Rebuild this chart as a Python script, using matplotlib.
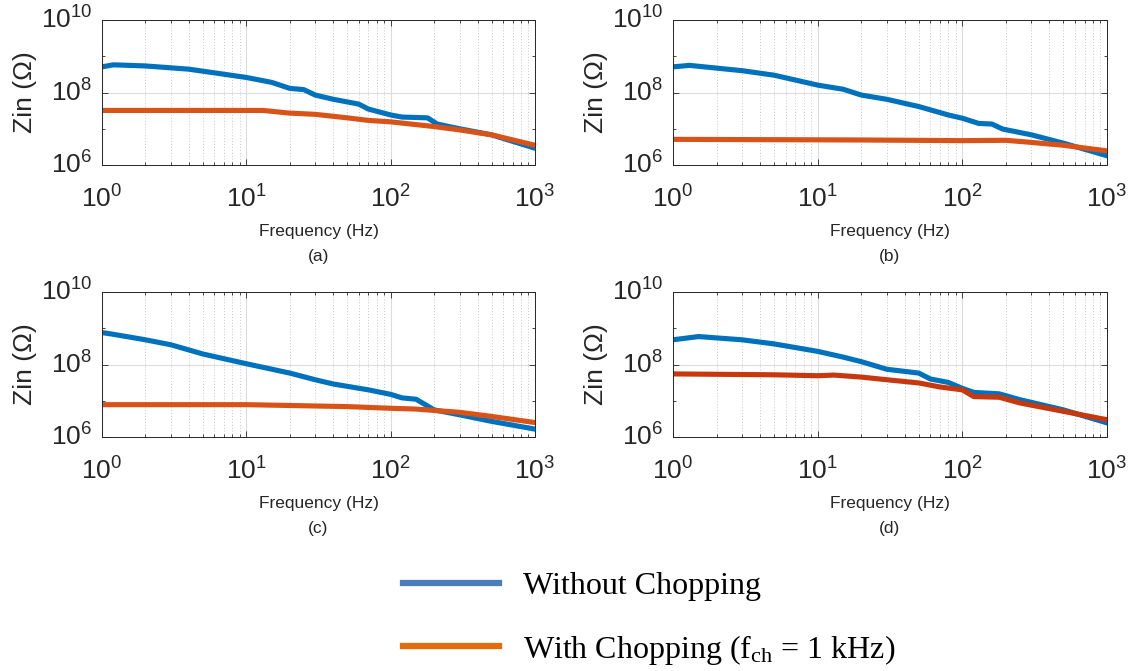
import matplotlib
matplotlib.use("Agg")
import matplotlib.pyplot as plt
from matplotlib.lines import Line2D
from matplotlib.ticker import LogLocator, NullFormatter

plt.rcParams['font.family'] = ['Liberation Sans', 'DejaVu Sans']
plt.rcParams['mathtext.fontset'] = 'custom'
plt.rcParams['mathtext.rm'] = 'Liberation Serif'

# panel (a)
f_a_blue = [1, 1.2, 2, 4, 10, 15, 20, 25, 30, 40, 60, 70, 100, 120, 180, 210, 300, 500, 1000]
z_a_blue = [5.1e8, 5.8e8, 5.4e8, 4.4e8, 2.6e8, 1.9e8, 1.3e8, 1.2e8, 8.5e7, 6.5e7, 4.8e7, 3.5e7,
            2.4e7, 2.1e7, 2.0e7, 1.35e7, 1.0e7, 6.8e6, 2.9e6]
f_a_orange = [1, 5, 13, 20, 30, 50, 70, 100, 200, 300, 500, 1000]
z_a_orange = [3.2e7, 3.2e7, 3.2e7, 2.7e7, 2.5e7, 2.0e7, 1.7e7, 1.55e7, 1.15e7, 9.3e6, 6.8e6, 3.5e6]

# panel (b)
f_b_blue = [1, 1.3, 3, 5, 10, 15, 20, 30, 50, 80, 100, 130, 160, 190, 300, 500, 1000]
z_b_blue = [5.1e8, 5.6e8, 4.0e8, 3.0e8, 1.6e8, 1.23e8, 8.5e7, 6.5e7, 4.1e7, 2.4e7, 1.95e7,
            1.4e7, 1.35e7, 9.8e6, 6.8e6, 4.0e6, 1.8e6]
f_b_orange = [1, 20, 100, 200, 300, 500, 1000]
z_b_orange = [5.1e6, 4.9e6, 4.7e6, 4.8e6, 4.2e6, 3.5e6, 2.45e6]

# panel (c)
f_c_blue = [1, 1.2, 2, 3, 5, 10, 20, 30, 40, 70, 100, 120, 150, 200, 300, 500, 1000]
z_c_blue = [7.6e8, 6.8e8, 4.8e8, 3.5e8, 1.95e8, 1.05e8, 5.8e7, 3.8e7, 2.9e7, 2.0e7, 1.5e7,
            1.2e7, 1.1e7, 5.6e6, 4.1e6, 2.7e6, 1.65e6]
f_c_orange = [1, 10, 20, 50, 100, 150, 200, 300, 500, 1000]
z_c_orange = [7.8e6, 7.8e6, 7.4e6, 6.9e6, 6.2e6, 5.9e6, 5.4e6, 4.8e6, 3.7e6, 2.5e6]

# panel (d)
f_d_blue = [1, 1.5, 3, 5, 10, 15, 20, 30, 50, 60, 80, 100, 120, 180, 250, 500, 1000]
z_d_blue = [4.8e8, 5.9e8, 4.8e8, 3.7e8, 2.3e8, 1.6e8, 1.2e8, 7.4e7, 5.8e7, 4.0e7, 3.2e7,
            2.2e7, 1.7e7, 1.55e7, 1.07e7, 5.6e6, 2.45e6]
f_d_orange = [1, 5, 10, 13, 20, 30, 50, 70, 100, 120, 180, 250, 500, 1000]
z_d_orange = [5.5e7, 5.2e7, 4.9e7, 5.1e7, 4.5e7, 3.8e7, 3.1e7, 2.4e7, 2.0e7, 1.3e7, 1.25e7,
              8.7e6, 5.1e6, 3.0e6]

panel_labels = ['(a)', '(b)', '(c)', '(d)']
legend_labels = ['Without Chopping', r'With Chopping ($\mathrm{f_{ch}}$ = 1 kHz)']

blue = '#0072BD'
orange = '#D95319'
orange_d = '#C8380F'

W, H = 1132, 671
fig = plt.figure(figsize=(W / 100, H / 100), dpi=100)

# axes boxes in pixels: left, top, right, bottom
boxes = [(102, 20, 535, 165), (673, 20, 1107, 165),
         (102, 292, 535, 437), (673, 292, 1107, 437)]
data = [(f_a_blue, z_a_blue, f_a_orange, z_a_orange, orange),
        (f_b_blue, z_b_blue, f_b_orange, z_b_orange, orange),
        (f_c_blue, z_c_blue, f_c_orange, z_c_orange, orange),
        (f_d_blue, z_d_blue, f_d_orange, z_d_orange, orange_d)]

txt = '#262626'
for (l, t, r, b), (fb, zb, fo, zo, oc), lab in zip(boxes, data, panel_labels):
    ax = fig.add_axes([l / W, 1 - b / H, (r - l) / W, (b - t) / H])
    ax.plot(fb, zb, color=blue, lw=3.7, solid_joinstyle='round')
    ax.plot(fo, zo, color=oc, lw=3.7, solid_joinstyle='round')
    ax.set_xscale('log')
    ax.set_yscale('log')
    ax.set_xlim(1, 1000)
    ax.set_ylim(1e6, 1e10)
    ax.set_yticks([1e6, 1e8, 1e10])
    ax.yaxis.set_minor_locator(LogLocator(base=10, subs=[], numticks=10))
    ax.yaxis.set_minor_formatter(NullFormatter())
    ax.xaxis.set_minor_locator(LogLocator(base=10, subs=range(2, 10), numticks=10))
    ax.xaxis.set_minor_formatter(NullFormatter())
    ax.grid(True, which='major', color='#dcdcdc', lw=0.8)
    ax.grid(True, which='minor', axis='x', color='#c8c8c8', lw=0.7, ls=(0, (1, 2)))
    ax.set_axisbelow(True)
    ax.tick_params(which='both', direction='in', top=True, right=True, colors=txt,
                   labelsize=19, width=0.6)
    ax.tick_params(which='major', length=4)
    ax.tick_params(which='minor', length=2)
    ax.tick_params(axis='x', which='major', pad=15)
    ax.tick_params(axis='y', which='major', pad=7)
    for tl in ax.get_yticklabels():
        tl.set_verticalalignment('center')
    for s in ax.spines.values():
        s.set_color(txt)
        s.set_linewidth(0.7)
    ax.set_ylabel('Zin (Ω)', fontsize=19, color=txt, labelpad=3)
    ax.set_xlabel('Frequency (Hz)\n' + lab, fontsize=12.5, color=txt, labelpad=8,
                  linespacing=1.85)

handles = [Line2D([], [], color='#4A7EBB', lw=4.5),
           Line2D([], [], color='#E46C0A', lw=4.5)]
fig.legend(handles, legend_labels, loc='upper left', bbox_to_anchor=(403 / W, 1 - 572 / H),
           frameon=False, handlelength=3.0, handletextpad=0.75, labelspacing=0.98,
           borderpad=0, borderaxespad=0,
           prop={'family': 'Liberation Serif', 'size': 23})

fig.savefig('out.png', dpi=100)
